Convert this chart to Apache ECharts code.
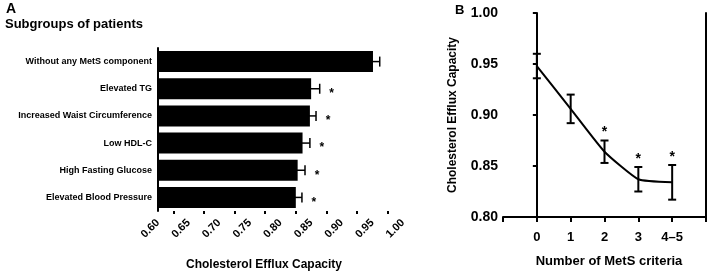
<!DOCTYPE html>
<html>
<head>
<meta charset="utf-8">
<script src="https://cdn.jsdelivr.net/npm/echarts@6/dist/echarts.min.js"></script>
<style>
html,body{margin:0;padding:0;background:#fff;}
#chart{width:709px;height:276px;}
</style>
</head>
<body>
<div id="chart"></div>
<script>
// panel A: subgroups
var subgroups = ['Without any MetS component', 'Elevated TG', 'Increased Waist Circumference', 'Low HDL-C', 'High Fasting Glucose', 'Elevated Blood Pressure'];
var subgroupMeans = [0.951, 0.850, 0.848, 0.836, 0.828, 0.825];
var subgroupErrors = [0.011, 0.014, 0.010, 0.012, 0.012, 0.010];
var subgroupSig = [0, 1, 1, 1, 1, 1];
var effluxTicks = ['0.60', '0.65', '0.70', '0.75', '0.80', '0.85', '0.90', '0.95', '1.00'];

// panel B: number of criteria
var criteria = ['0', '1', '2', '3', '4–5'];
var criteriaMeans = [0.948, 0.906, 0.864, 0.837, 0.834];
var criteriaErrors = [0.012, 0.014, 0.011, 0.012, 0.017];
var criteriaSig = [0, 0, 1, 1, 1];

var FONT = 'Arial, "Liberation Sans", sans-serif';

var barErr = subgroupMeans.map(function (m, i) {
    return [m, i, subgroupErrors[i], subgroupSig[i]];
});
var lineData = criteriaMeans.map(function (m, i) { return [i, m]; });
var lineErr = criteriaMeans.map(function (m, i) {
    return [i, m, criteriaErrors[i], criteriaSig[i]];
});

var myChart = echarts.init(document.getElementById('chart'));
var option = {
    animation: false,
    textStyle: {fontFamily: FONT},
    title: [
        {text: 'A', left: 1, top: -3, textStyle: {fontSize: 14, fontWeight: 'bold', color: '#000', fontFamily: FONT}},
        {text: 'Subgroups of patients', left: 0, top: 13, textStyle: {fontSize: 13, fontWeight: 'bold', color: '#000', fontFamily: FONT}},
        {text: 'B', left: 450, top: -1, textStyle: {fontSize: 13, fontWeight: 'bold', color: '#000', fontFamily: FONT}}
    ],
    grid: [
        {left: 158, top: 48, width: 245, height: 165},
        {left: 503, top: 13, width: 205, height: 204}
    ],
    xAxis: [
        {
            gridIndex: 0, type: 'value', min: 0.6, max: 1.0, interval: 0.05,
            splitLine: {show: false},
            axisLine: {lineStyle: {color: '#000', width: 2}},
            axisTick: {length: 6, lineStyle: {color: '#000', width: 2}},
            minorTick: {show: true, splitNumber: 2, length: 3, lineStyle: {color: '#000', width: 2}},
            axisLabel: {
                rotate: 45, margin: 10, color: '#000', fontWeight: 'bold', fontSize: 11, fontFamily: FONT,
                formatter: function (v) { return effluxTicks[Math.round((v - 0.6) / 0.05)]; }
            },
            name: 'Cholesterol Efflux Capacity', nameLocation: 'middle', nameGap: 48,
            nameTextStyle: {color: '#000', fontWeight: 'bold', fontSize: 12, fontFamily: FONT, padding: [0, 33, 0, 0]}
        },
        {
            gridIndex: 1, type: 'value', min: -1, max: 5, interval: 1,
            splitLine: {show: false},
            axisLine: {lineStyle: {color: '#000', width: 2}},
            axisTick: {length: 5, lineStyle: {color: '#000', width: 2}},
            axisLabel: {
                margin: 14, color: '#000', fontWeight: 'bold', fontSize: 13, fontFamily: FONT,
                formatter: function (v) { return criteria[v] || ''; }
            },
            name: 'Number of MetS criteria', nameLocation: 'middle', nameGap: 38,
            nameTextStyle: {color: '#000', fontWeight: 'bold', fontSize: 13, fontFamily: FONT, padding: [0, 0, 0, 9]}
        }
    ],
    yAxis: [
        {
            gridIndex: 0, type: 'category', data: subgroups, inverse: true,
            axisLine: {lineStyle: {color: '#000', width: 2}},
            axisTick: {show: false},
            axisLabel: {margin: 6, color: '#000', fontWeight: 'bold', fontSize: 9, fontFamily: FONT}
        },
        {
            gridIndex: 1, type: 'value', min: 0.8, max: 1.0, interval: 0.05,
            splitLine: {show: false},
            axisLine: {lineStyle: {color: '#000', width: 2}},
            axisTick: {length: 4, lineStyle: {color: '#000', width: 2}},
            axisLabel: {
                margin: 5, color: '#000', fontWeight: 'bold', fontSize: 14, fontFamily: FONT,
                formatter: function (v) { return v.toFixed(2); }
            },
            name: 'Cholesterol Efflux Capacity', nameLocation: 'middle', nameGap: 44,
            nameTextStyle: {color: '#000', fontWeight: 'bold', fontSize: 12, fontFamily: FONT}
        },
        {
            gridIndex: 1, type: 'value', min: 0.8, max: 1.0, position: 'right',
            splitLine: {show: false},
            axisLine: {show: true, lineStyle: {color: '#000', width: 2}},
            axisTick: {show: false}, axisLabel: {show: false}
        }
    ],
    series: [
        {
            type: 'bar', xAxisIndex: 0, yAxisIndex: 0,
            data: subgroupMeans, barWidth: 21,
            itemStyle: {color: '#000'}
        },
        {
            type: 'custom', xAxisIndex: 0, yAxisIndex: 0,
            data: barErr, encode: {x: 0, y: 1}, z: 5,
            renderItem: function (params, api) {
                var m = api.value(0), c = api.value(1), e = api.value(2), s = api.value(3);
                var lo = api.coord([m - e, c]);
                var hi = api.coord([m + e, c]);
                var style = {stroke: '#000', lineWidth: 1.5};
                var kids = [
                    {type: 'line', shape: {x1: lo[0], y1: lo[1], x2: hi[0], y2: hi[1]}, style: style},
                    {type: 'line', shape: {x1: hi[0], y1: hi[1] - 5, x2: hi[0], y2: hi[1] + 5}, style: style}
                ];
                if (s) {
                    kids.push({type: 'text', style: {text: '*', x: hi[0] + 12, y: hi[1] + 5, font: 'bold 12px ' + FONT, fill: '#000', align: 'center', verticalAlign: 'middle'}});
                }
                return {type: 'group', children: kids};
            }
        },
        {
            type: 'line', xAxisIndex: 1, yAxisIndex: 1,
            data: lineData, smooth: 0.15, symbol: 'none',
            lineStyle: {color: '#000', width: 2}
        },
        {
            type: 'custom', xAxisIndex: 1, yAxisIndex: 1,
            data: lineErr, encode: {x: 0, y: 1}, z: 5,
            renderItem: function (params, api) {
                var x = api.value(0), m = api.value(1), e = api.value(2), s = api.value(3);
                var lo = api.coord([x, m - e]);
                var hi = api.coord([x, m + e]);
                var style = {stroke: '#000', lineWidth: 2};
                var kids = [
                    {type: 'line', shape: {x1: lo[0], y1: lo[1], x2: hi[0], y2: hi[1]}, style: style},
                    {type: 'line', shape: {x1: hi[0] - 4, y1: hi[1], x2: hi[0] + 4, y2: hi[1]}, style: style},
                    {type: 'line', shape: {x1: lo[0] - 4, y1: lo[1], x2: lo[0] + 4, y2: lo[1]}, style: style}
                ];
                if (s) {
                    kids.push({type: 'text', style: {text: '*', x: hi[0], y: hi[1] - 8, font: 'bold 14px ' + FONT, fill: '#000', align: 'center', verticalAlign: 'middle'}});
                }
                return {type: 'group', children: kids};
            }
        }
    ]
};
if (option && typeof option == "object") {
    myChart.setOption(option, true);
}
</script>
</body>
</html>
